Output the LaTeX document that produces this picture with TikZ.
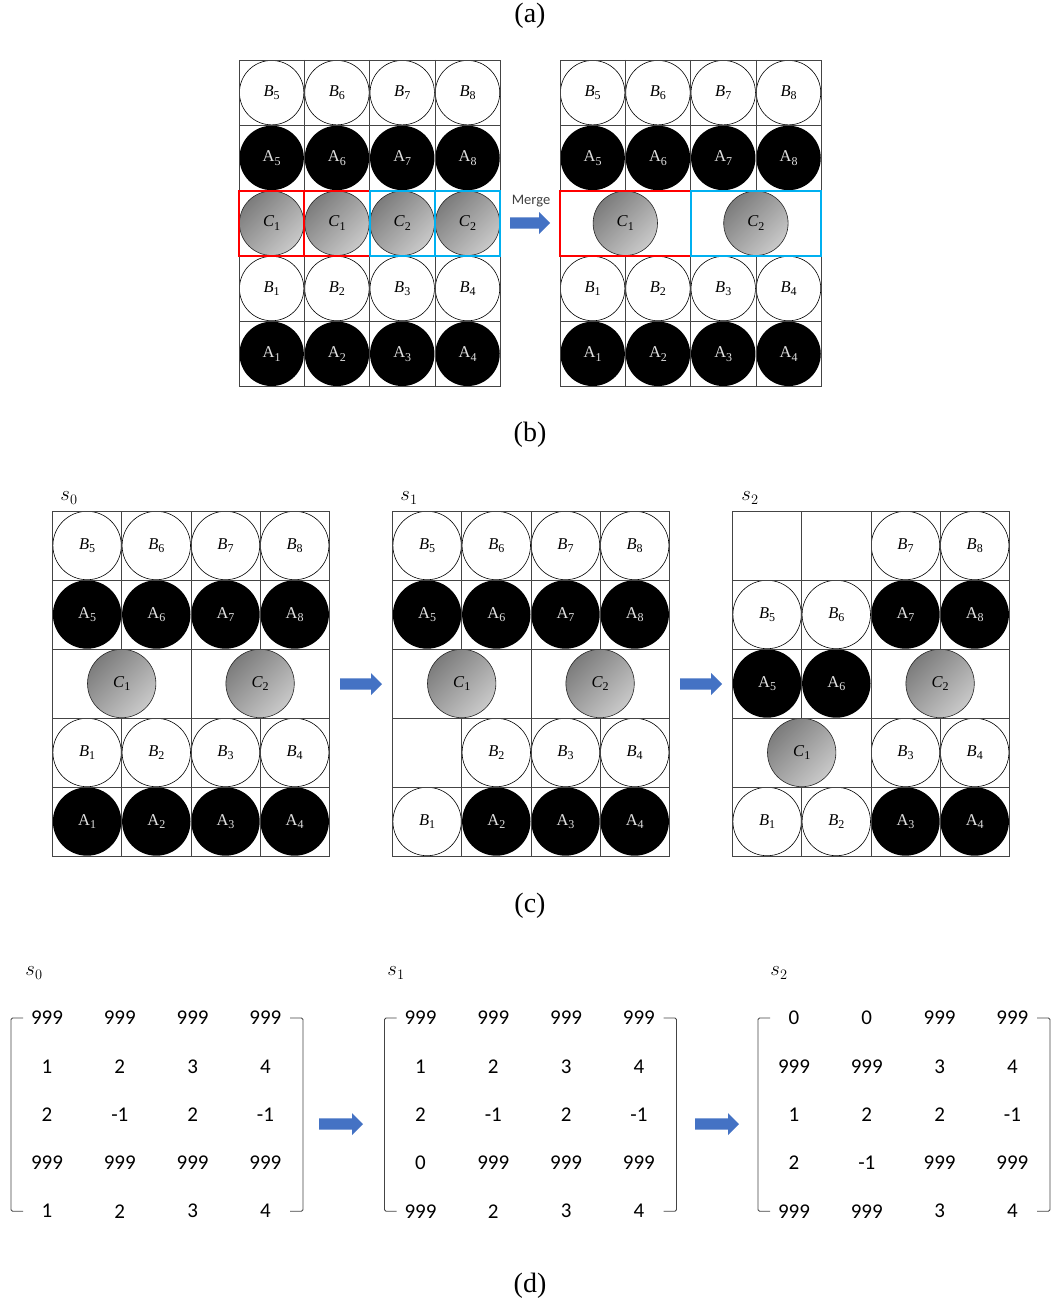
\documentclass[tikz,border=0pt]{standalone}
\usepackage{fontspec}
\setmainfont{Liberation Serif}
\newfontfamily\calibri{Carlito}
\definecolor{arrowblue}{HTML}{4472C4}
\definecolor{mergered}{HTML}{FF0000}
\definecolor{mergeblue}{HTML}{00B0F0}
\definecolor{gridgray}{HTML}{444444}
\definecolor{ctop}{HTML}{7C7C7C}
\definecolor{cbot}{HTML}{C9C9C9}

% ball labels: italic letter or upright letter with a lowered index
\newcommand\subidx[1]{\raisebox{-0.22em}{\fontsize{12}{12}\selectfont #1}}
\newcommand\itlab[2]{\textit{#1}\subidx{#2}}
\newcommand\uplab[2]{#1\subidx{#2}}

\tikzset{
  gridline/.style={draw=gridgray, line width=0.8pt},
  wball/.style={circle, draw=black, line width=0.6pt, fill=white, inner sep=0pt},
  bball/.style={circle, fill=black, text=white!88!black, inner sep=0pt},
  cball/.style={circle, draw=black!85, line width=0.6pt, inner sep=0pt,
    shading=axis, top color=ctop, bottom color=cbot, shading angle=45},
  caption/.style={font=\fontsize{28}{32}\selectfont},
  num/.style={font=\calibri\fontsize{21}{24}\selectfont, inner sep=0pt},
  statelabel/.style={font=\fontsize{22}{26}\selectfont, inner sep=0pt},
  ballfont/.style={font=\fontsize{16.5}{18}\selectfont},
  redbox/.style={draw=mergered, line width=2pt},
  bluebox/.style={draw=mergeblue, line width=2.2pt},
  bracket/.style={draw=gridgray, line width=0.9pt, rounded corners=1.5pt},
}

% blue block arrow: start x, centre y, length
\newcommand\blockarrow[3]{%
  \fill[arrowblue] (#1,#2-5.7) -- ++(#3-11,0) -- ++(0,-5.3) -- ++(11,11)
    -- ++(-11,11) -- ++(0,-5.3) -- ++(-#3+11,0) -- cycle;}

% one row of a number matrix: prefix, row, four entries
\newcommand\mrow[6]{%
  \node[num] (#1-#2-1) at (0,#2-1) {#3};
  \node[num] (#1-#2-2) at (1,#2-1) {#4};
  \node[num] (#1-#2-3) at (2,#2-1) {#5};
  \node[num] (#1-#2-4) at (3,#2-1) {#6};}

% square brackets around a number matrix
\newcommand\mbrackets{%
  \draw[bracket] (-24pt,0pt) -- (-36pt,0pt) -- (-36pt,-193.2pt) -- (-24pt,-193.2pt);
  \draw[bracket] (243pt,0pt) -- (256pt,0pt) -- (256pt,-193.2pt) -- (243pt,-193.2pt);}

\begin{document}
\begin{tikzpicture}[x=1pt, y=-1pt]
\useasboundingbox[fill=white] (0,0) rectangle (1053,1303);

% ---------- captions ----------
\node[caption] (capa) at (530,16) {(a)};
\node[caption] (capb) at (530,435) {(b)};
\node[caption] (capc) at (530,906) {(c)};
\node[caption] (capd) at (530,1286) {(d)};

% ---------- (a) before merging ----------
\begin{scope}[shift={(239,60)}, x=65.3pt, y=-65.3pt, minimum size=64.4pt, ballfont]
  \foreach \i in {5,...,8} \node[wball] (al-B\i) at (\i-4.5,0.5) {\itlab{B}{\i}};
  \foreach \i in {5,...,8} \node[bball] (al-A\i) at (\i-4.5,1.5) {\uplab{A}{\i}};
  \foreach \i in {1,2} \node[cball] (al-Ca\i) at (\i-0.5,2.5) {\itlab{C}{1}};
  \foreach \i in {3,4} \node[cball] (al-Cb\i) at (\i-0.5,2.5) {\itlab{C}{2}};
  \foreach \i in {1,...,4} \node[wball] (al-B\i) at (\i-0.5,3.5) {\itlab{B}{\i}};
  \foreach \i in {1,...,4} \node[bball] (al-A\i) at (\i-0.5,4.5) {\uplab{A}{\i}};
  \draw[gridline] (0,0) rectangle (4,5);
  \foreach \r in {1,...,4} \draw[gridline] (0,\r) -- (4,\r);
  \foreach \c in {1,2,3} \draw[gridline] (\c,0) -- (\c,5);
  \draw[redbox] (0,2) rectangle (1,3) (1,2) rectangle (2,3);
  \draw[bluebox] (2,2) rectangle (3,3) (3,2) rectangle (4,3);
\end{scope}

% merge arrow
\node[font=\calibri\fontsize{14.5}{16}\selectfont, text=black!75] (mergelab) at (531,201) {Merge};
\blockarrow{510}{223}{40}

% ---------- (a) after merging ----------
\begin{scope}[shift={(560,60)}, x=65.3pt, y=-65.3pt, minimum size=64.4pt, ballfont]
  \foreach \i in {5,...,8} \node[wball] (ar-B\i) at (\i-4.5,0.5) {\itlab{B}{\i}};
  \foreach \i in {5,...,8} \node[bball] (ar-A\i) at (\i-4.5,1.5) {\uplab{A}{\i}};
  \node[cball] (ar-C1) at (1,2.5) {\itlab{C}{1}};
  \node[cball] (ar-C2) at (3,2.5) {\itlab{C}{2}};
  \foreach \i in {1,...,4} \node[wball] (ar-B\i) at (\i-0.5,3.5) {\itlab{B}{\i}};
  \foreach \i in {1,...,4} \node[bball] (ar-A\i) at (\i-0.5,4.5) {\uplab{A}{\i}};
  \draw[gridline] (0,0) rectangle (4,5);
  \foreach \r in {1,...,4} \draw[gridline] (0,\r) -- (4,\r);
  \foreach \c in {1,3} \draw[gridline] (\c,0) -- (\c,2) (\c,3) -- (\c,5);
  \draw[gridline] (2,0) -- (2,5);
  \draw[redbox] (0,2) rectangle (2,3);
  \draw[bluebox] (2,2) rectangle (4,3);
\end{scope}

% ---------- (b) state s0 ----------
\node[statelabel] (ls0) at (69,498) {$s_0$};
\begin{scope}[shift={(52.5,511)}, x=69.2pt, y=-69pt, minimum size=68.4pt, ballfont]
  \foreach \i in {5,...,8} \node[wball] (p0-B\i) at (\i-4.5,0.5) {\itlab{B}{\i}};
  \foreach \i in {5,...,8} \node[bball] (p0-A\i) at (\i-4.5,1.5) {\uplab{A}{\i}};
  \node[cball] (p0-C1) at (1,2.5) {\itlab{C}{1}};
  \node[cball] (p0-C2) at (3,2.5) {\itlab{C}{2}};
  \foreach \i in {1,...,4} \node[wball] (p0-B\i) at (\i-0.5,3.5) {\itlab{B}{\i}};
  \foreach \i in {1,...,4} \node[bball] (p0-A\i) at (\i-0.5,4.5) {\uplab{A}{\i}};
  \draw[gridline] (0,0) rectangle (4,5);
  \foreach \r in {1,...,4} \draw[gridline] (0,\r) -- (4,\r);
  \foreach \c in {1,3} \draw[gridline] (\c,0) -- (\c,2) (\c,3) -- (\c,5);
  \draw[gridline] (2,0) -- (2,5);
\end{scope}

\blockarrow{340}{684}{42}

% ---------- (b) state s1 ----------
\node[statelabel] (ls1) at (409,498) {$s_1$};
\begin{scope}[shift={(392.5,511)}, x=69.2pt, y=-69pt, minimum size=68.4pt, ballfont]
  \foreach \i in {5,...,8} \node[wball] (p1-B\i) at (\i-4.5,0.5) {\itlab{B}{\i}};
  \foreach \i in {5,...,8} \node[bball] (p1-A\i) at (\i-4.5,1.5) {\uplab{A}{\i}};
  \node[cball] (p1-C1) at (1,2.5) {\itlab{C}{1}};
  \node[cball] (p1-C2) at (3,2.5) {\itlab{C}{2}};
  \foreach \i in {2,3,4} \node[wball] (p1-B\i) at (\i-0.5,3.5) {\itlab{B}{\i}};
  \node[wball] (p1-B1) at (0.5,4.5) {\itlab{B}{1}};
  \foreach \i in {2,3,4} \node[bball] (p1-A\i) at (\i-0.5,4.5) {\uplab{A}{\i}};
  \draw[gridline] (0,0) rectangle (4,5);
  \foreach \r in {1,...,4} \draw[gridline] (0,\r) -- (4,\r);
  \foreach \c in {1,3} \draw[gridline] (\c,0) -- (\c,2) (\c,3) -- (\c,5);
  \draw[gridline] (2,0) -- (2,5);
\end{scope}

\blockarrow{680}{684}{42}

% ---------- (b) state s2 ----------
\node[statelabel] (ls2) at (750,498) {$s_2$};
\begin{scope}[shift={(732.5,511)}, x=69.2pt, y=-69pt, minimum size=68.4pt, ballfont]
  \node[wball] (p2-B7) at (2.5,0.5) {\itlab{B}{7}};
  \node[wball] (p2-B8) at (3.5,0.5) {\itlab{B}{8}};
  \node[wball] (p2-B5) at (0.5,1.5) {\itlab{B}{5}};
  \node[wball] (p2-B6) at (1.5,1.5) {\itlab{B}{6}};
  \node[bball] (p2-A7) at (2.5,1.5) {\uplab{A}{7}};
  \node[bball] (p2-A8) at (3.5,1.5) {\uplab{A}{8}};
  \node[bball] (p2-A5) at (0.5,2.5) {\uplab{A}{5}};
  \node[bball] (p2-A6) at (1.5,2.5) {\uplab{A}{6}};
  \node[cball] (p2-C2) at (3,2.5) {\itlab{C}{2}};
  \node[cball] (p2-C1) at (1,3.5) {\itlab{C}{1}};
  \node[wball] (p2-B3) at (2.5,3.5) {\itlab{B}{3}};
  \node[wball] (p2-B4) at (3.5,3.5) {\itlab{B}{4}};
  \node[wball] (p2-B1) at (0.5,4.5) {\itlab{B}{1}};
  \node[wball] (p2-B2) at (1.5,4.5) {\itlab{B}{2}};
  \node[bball] (p2-A3) at (2.5,4.5) {\uplab{A}{3}};
  \node[bball] (p2-A4) at (3.5,4.5) {\uplab{A}{4}};
  \draw[gridline] (0,0) rectangle (4,5);
  \foreach \r in {1,...,4} \draw[gridline] (0,\r) -- (4,\r);
  \draw[gridline] (1,0) -- (1,3) (1,4) -- (1,5);
  \draw[gridline] (2,0) -- (2,5);
  \draw[gridline] (3,0) -- (3,2) (3,3) -- (3,5);
\end{scope}

% ---------- (c) matrices ----------
\node[statelabel] (ms0) at (34,973) {$s_0$};
\begin{scope}[shift={(47,1018)}, x=72.8pt, y=-48.3pt]
  \mrow{m0}{1}{999}{999}{999}{999}
  \mrow{m0}{2}{1}{2}{3}{4}
  \mrow{m0}{3}{2}{-1}{2}{-1}
  \mrow{m0}{4}{999}{999}{999}{999}
  \mrow{m0}{5}{1}{2}{3}{4}
  \mbrackets
\end{scope}

\blockarrow{319}{1124}{44}

\node[statelabel] (ms1) at (396,973) {$s_1$};
\begin{scope}[shift={(420.5,1018)}, x=72.8pt, y=-48.3pt]
  \mrow{m1}{1}{999}{999}{999}{999}
  \mrow{m1}{2}{1}{2}{3}{4}
  \mrow{m1}{3}{2}{-1}{2}{-1}
  \mrow{m1}{4}{0}{999}{999}{999}
  \mrow{m1}{5}{999}{2}{3}{4}
  \mbrackets
\end{scope}

\blockarrow{695}{1124}{44}

\node[statelabel] (ms2) at (779,973) {$s_2$};
\begin{scope}[shift={(794,1018)}, x=72.8pt, y=-48.3pt]
  \mrow{m2}{1}{0}{0}{999}{999}
  \mrow{m2}{2}{999}{999}{3}{4}
  \mrow{m2}{3}{1}{2}{2}{-1}
  \mrow{m2}{4}{2}{-1}{999}{999}
  \mrow{m2}{5}{999}{999}{3}{4}
  \mbrackets
\end{scope}

\end{tikzpicture}
\end{document}
